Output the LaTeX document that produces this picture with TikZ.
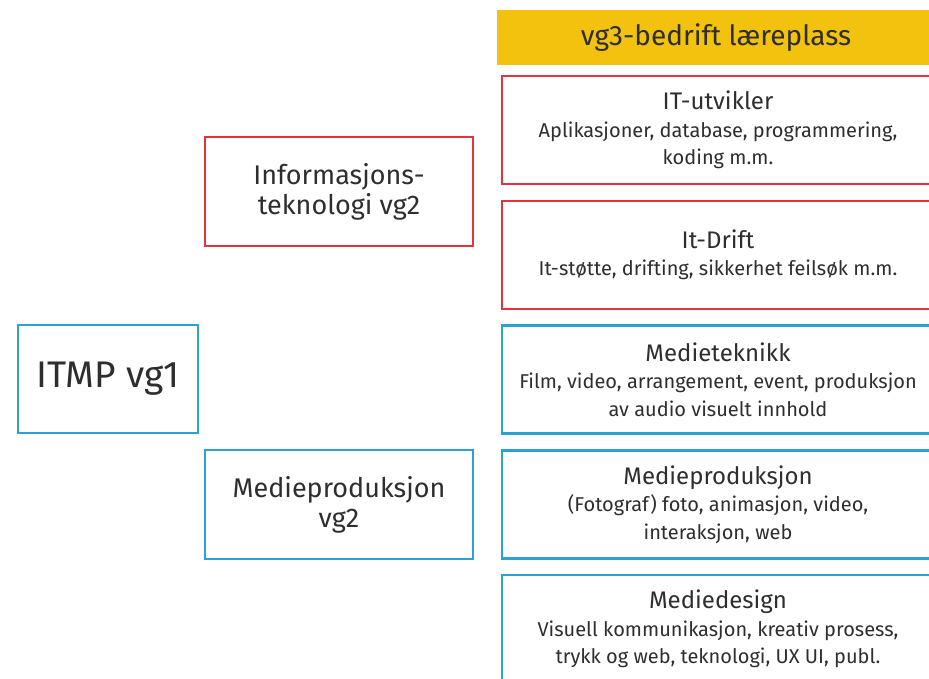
\documentclass[tikz,border=0pt]{standalone}
\usepackage{fontspec}
\setmainfont{Fira Sans}
\usetikzlibrary{positioning}

\definecolor{itred}{HTML}{E4333F}
\definecolor{mpblue}{HTML}{2AA3D4}
\definecolor{vgyellow}{HTML}{F3C20E}
\definecolor{txtgray}{HTML}{2E2E2E}

\newcommand{\tittel}[1]{{\fontsize{24}{28}\selectfont #1}}

\tikzset{
  box/.style={rectangle, draw, line width=2.5pt, align=center, text=txtgray, inner sep=0pt},
  itbox/.style={box, draw=itred},
  mpbox/.style={box, draw=mpblue},
  vgbox/.style={minimum width=268pt, minimum height=109pt, font=\fontsize{27}{30}\selectfont},
  fagbox/.style={minimum width=432pt, minimum height=108pt, font=\fontsize{20}{27.5}\selectfont},
}

\begin{document}
\begin{tikzpicture}[x=1pt, y=-1pt, node distance=14.3pt]
    \useasboundingbox (0,0) rectangle (929,679);
    \clip (0,0) rectangle (929,679);

    % vg1 og vg2
    \node[mpbox, minimum width=180pt, minimum height=108pt, font=\fontsize{37}{40}\selectfont] (vgone) at (108,379) {ITMP vg1};
    \node[itbox, vgbox] (itvg) at (339,191.5) {Informasjons-\\teknologi vg2};
    \node[mpbox, vgbox] (mpvg) at (339,504.5) {Medieproduksjon\\vg2};

    % vg3
    \node[rectangle, fill=vgyellow, text=txtgray, minimum width=438pt, minimum height=55pt, font=\fontsize{28}{30}\selectfont] (laere) at (716,37.5) {vg3-bedrift læreplass};
    \node[itbox, fagbox] (itutv) at (718,130) {\tittel{IT-utvikler}\\Aplikasjoner, database, programmering,\\koding m.m.};
    \node[itbox, fagbox] (itdrift) [below=of itutv] {\tittel{It-Drift}\\It-støtte, drifting, sikkerhet feilsøk m.m.};
    \node[mpbox, fagbox] (medtek) [below=of itdrift] {\tittel{Medieteknikk}\\Film, video, arrangement, event, produksjon\\av audio visuelt innhold};
    \node[mpbox, fagbox] (medprod) [below=of medtek] {\tittel{Medieproduksjon}\\(Fotograf) foto, animasjon, video,\\interaksjon, web};
    \node[mpbox, fagbox] (meddes) [below=of medprod] {\tittel{Mediedesign}\\Visuell kommunikasjon, kreativ prosess,\\trykk og web, teknologi, UX UI, publ.};
\end{tikzpicture}
\end{document}
